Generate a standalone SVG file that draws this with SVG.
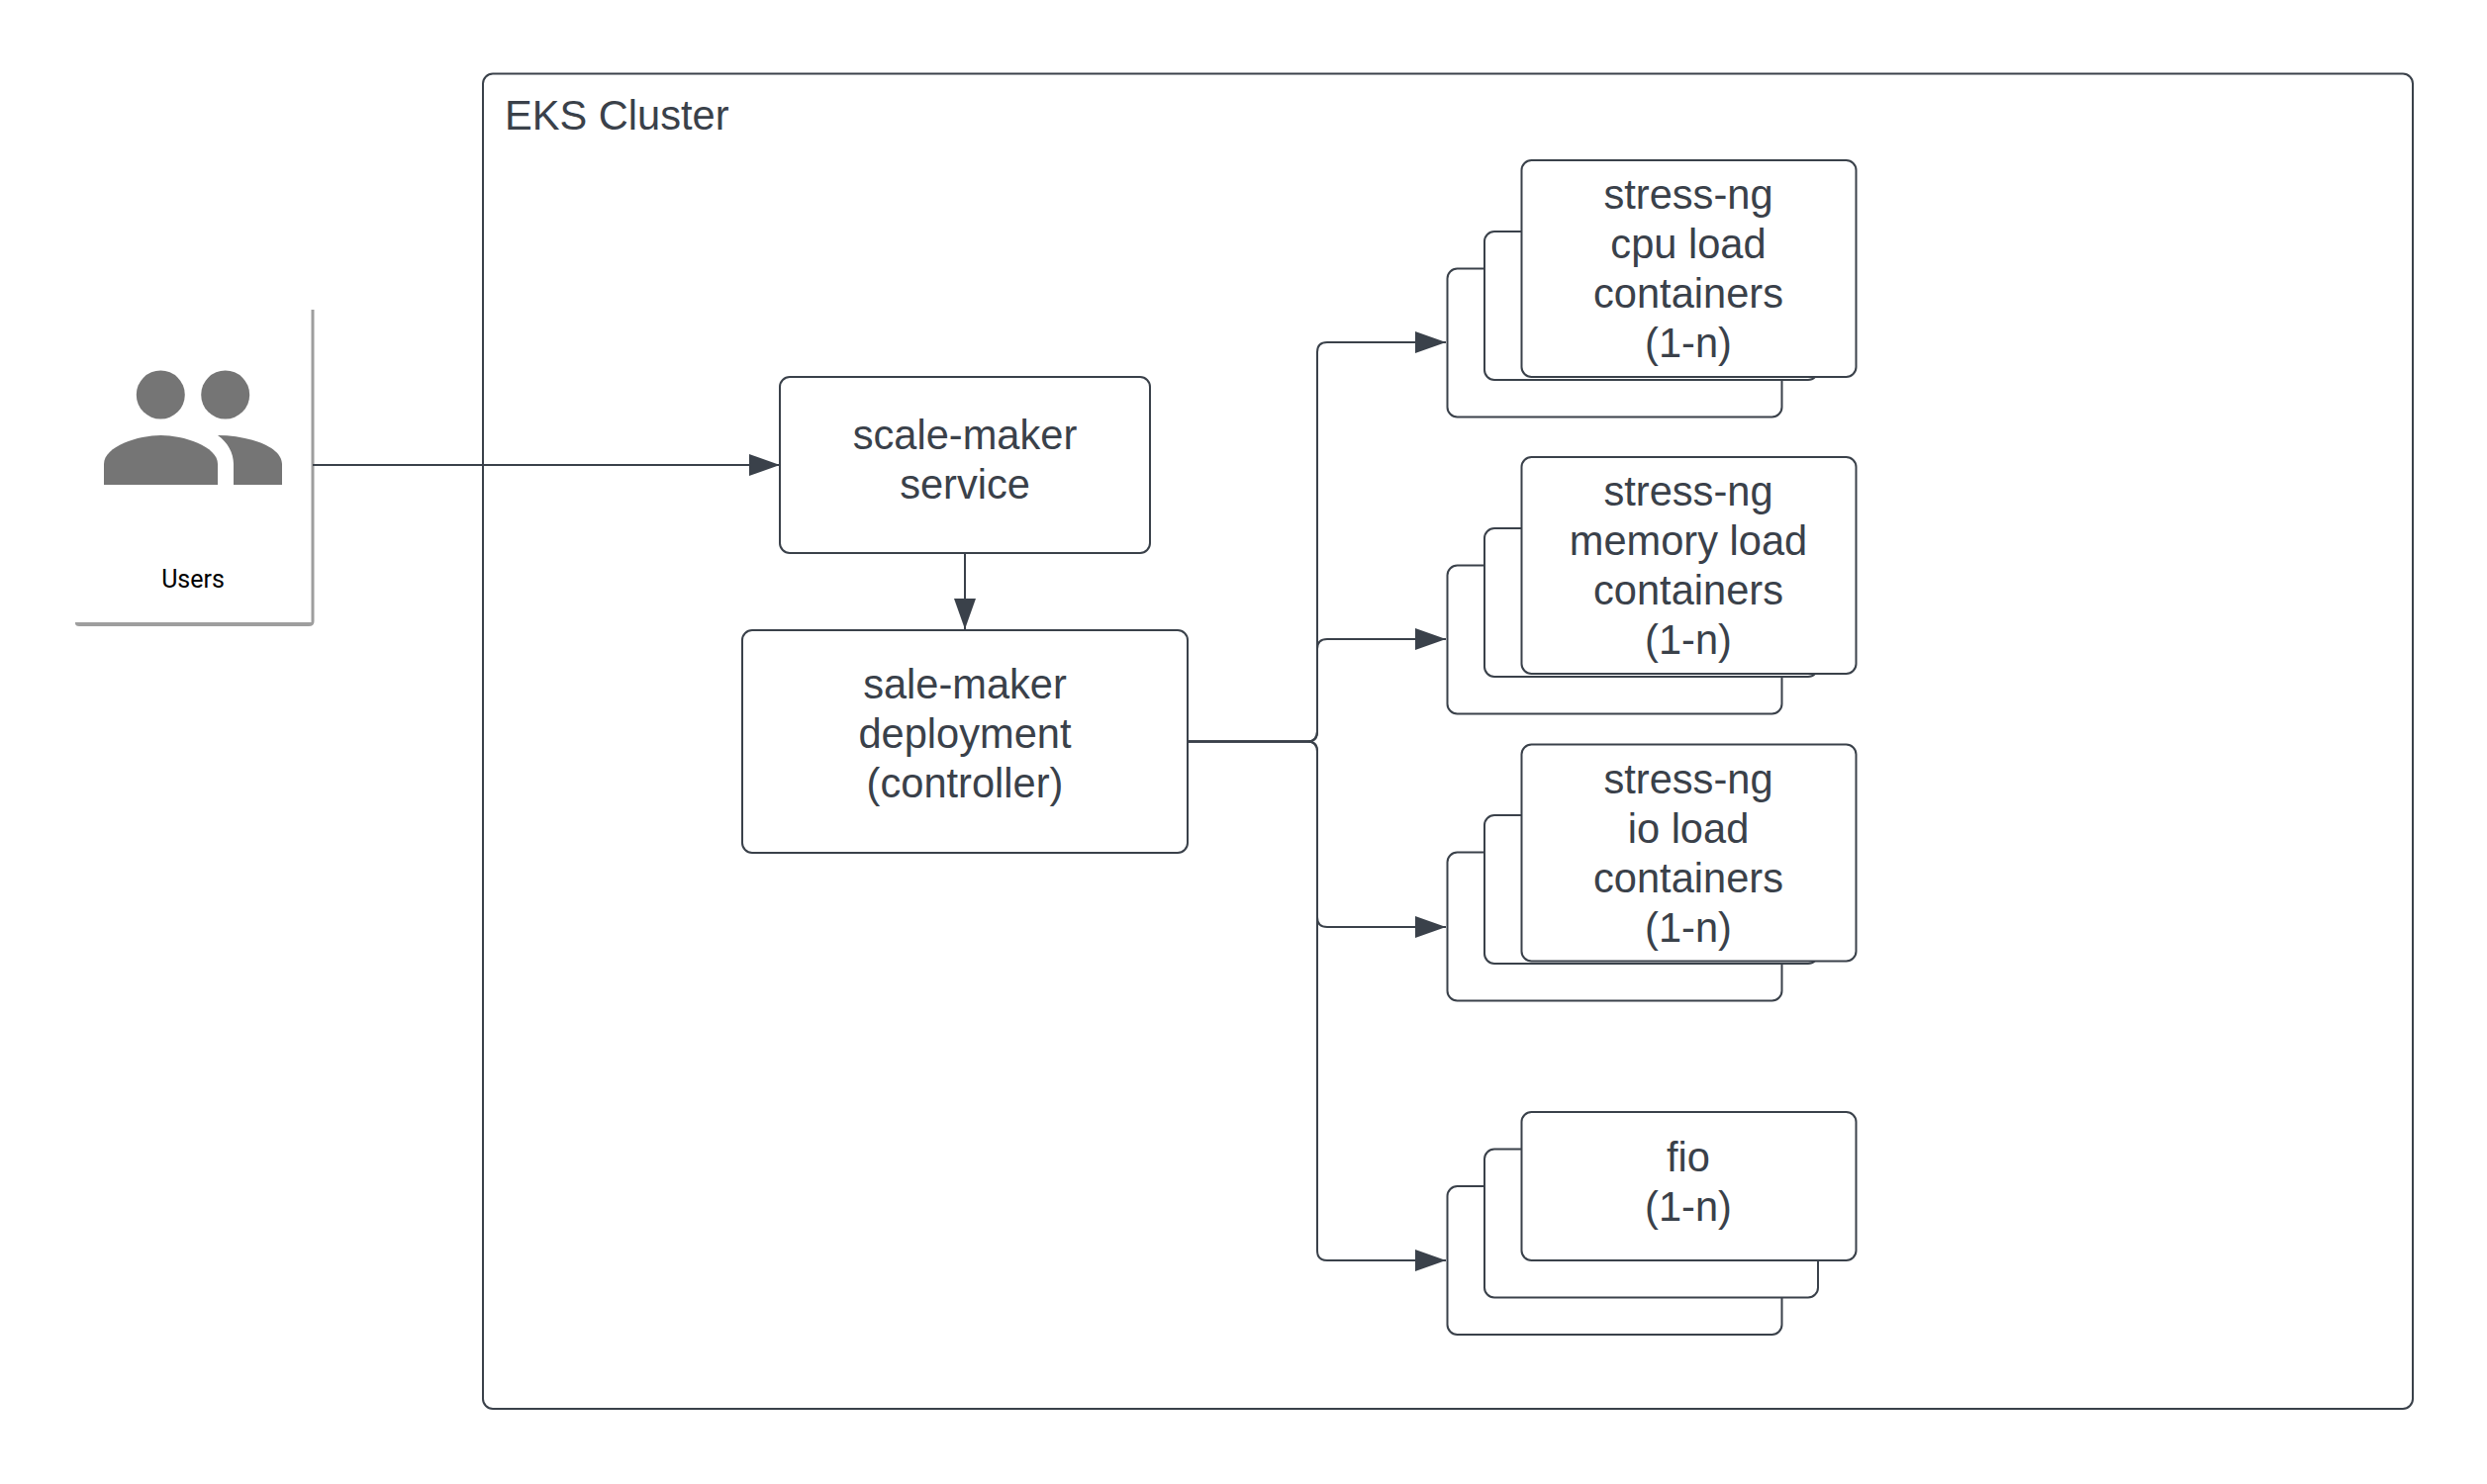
<svg xmlns="http://www.w3.org/2000/svg" width="2513" height="1500" viewBox="0 0 2513 1500">
<style>
.box{fill:#fff;stroke:#3a414a;stroke-width:2}
.t{font-family:"Liberation Sans",Arial,sans-serif;font-size:41.600px;fill:#3a414a;text-anchor:middle}
.c{fill:none;stroke:#3a414a;stroke-width:2}
.i{fill:#757575}
</style>
<defs>
<marker id="a" markerUnits="userSpaceOnUse" markerWidth="33" markerHeight="24" refX="31" refY="11" orient="auto"><path d="M0 0L31 11L0 22Z" fill="#3a414a"/></marker>
</defs>
<rect width="2513" height="1500" fill="#fff"/>
<g id="cluster"><rect class="box" x="488" y="74.500" width="1950" height="1349.500" rx="10"/><text class="t" x="510" y="130.500" style="text-anchor:start">EKS Cluster</text></g>
<g id="users">
<path d="M76 629H314.500V313H317.500V628Q317.500 633 312 633H80Q76 633 76 630Z" fill="#9e9e9e"/>
<circle class="i" cx="162.300" cy="399" r="24.500"/><circle class="i" cx="227.700" cy="399" r="24.500"/>
<path class="i" d="M105 490V469C105 451 140 440 162.500 440S220 451 220 469V490Z"/>
<path class="i" d="M236 490H285V469C285 451 250 440 220 440C230 447 236 458 236 469Z"/>
<text x="195" y="593.500" font-family="Roboto,sans-serif" font-size="25" fill="#000" text-anchor="middle">Users</text>
</g>
<g id="connectors">
<path class="c" d="M316 470H788" marker-end="url(#a)"/>
<path class="c" d="M975 559V636" marker-end="url(#a)"/>
<path class="c" d="M1200 749.500H1321Q1331 749.500 1331 739.500V356Q1331 346 1341 346H1461" marker-end="url(#a)"/>
<path class="c" d="M1200 749.500H1321Q1331 749.500 1331 739.500V656Q1331 646 1341 646H1461" marker-end="url(#a)"/>
<path class="c" d="M1200 749.500H1321Q1331 749.500 1331 759.500V927Q1331 937 1341 937H1461" marker-end="url(#a)"/>
<path class="c" d="M1200 749.500H1321Q1331 749.500 1331 759.500V1264Q1331 1274 1341 1274H1461" marker-end="url(#a)"/>
</g>
<g id="service"><rect class="box" x="788" y="381" width="374" height="178" rx="10"/><text class="t" x="975" y="454">scale-maker</text><text class="t" x="975" y="504">service</text></g>
<g id="deployment"><rect class="box" x="750" y="637" width="450" height="225" rx="10"/><text class="t" x="975" y="706">sale-maker</text><text class="t" x="975" y="756">deployment</text><text class="t" x="975" y="806">(controller)</text></g>
<g id="cpu"><rect class="box" x="1462.500" y="271.500" width="338" height="150" rx="10"/><rect class="box" x="1500" y="234" width="337" height="150" rx="10"/><rect class="box" x="1537.500" y="162" width="338" height="219" rx="10"/><text class="t" x="1706" y="211">stress-ng</text><text class="t" x="1706" y="261">cpu load</text><text class="t" x="1706" y="311">containers</text><text class="t" x="1706" y="361">(1-n)</text></g>
<g id="memory"><rect class="box" x="1462.500" y="571.500" width="338" height="150" rx="10"/><rect class="box" x="1500" y="534" width="337" height="150" rx="10"/><rect class="box" x="1537.500" y="462" width="338" height="219" rx="10"/><text class="t" x="1706" y="511">stress-ng</text><text class="t" x="1706" y="561">memory load</text><text class="t" x="1706" y="611">containers</text><text class="t" x="1706" y="661">(1-n)</text></g>
<g id="io"><rect class="box" x="1462.500" y="861.500" width="338" height="150" rx="10"/><rect class="box" x="1500" y="824" width="337" height="150" rx="10"/><rect class="box" x="1537.500" y="752.500" width="338" height="219" rx="10"/><text class="t" x="1706" y="801.500">stress-ng</text><text class="t" x="1706" y="851.500">io load</text><text class="t" x="1706" y="901.500">containers</text><text class="t" x="1706" y="951.500">(1-n)</text></g>
<g id="fio"><rect class="box" x="1462.500" y="1199" width="338" height="150" rx="10"/><rect class="box" x="1500" y="1161.500" width="337" height="150" rx="10"/><rect class="box" x="1537.500" y="1124" width="338" height="150" rx="10"/><text class="t" x="1706" y="1184">fio</text><text class="t" x="1706" y="1234">(1-n)</text></g>
</svg>
